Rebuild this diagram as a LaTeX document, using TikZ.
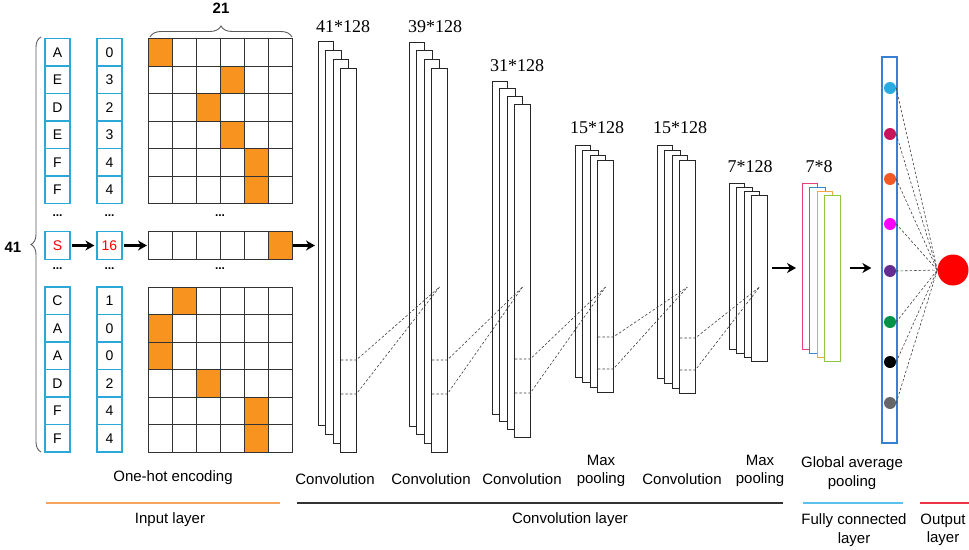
\documentclass[tikz,border=0pt]{standalone}
\usepackage{fontspec}
\setmainfont{Liberation Sans}
\newfontfamily\dimfont{Liberation Serif}
\usetikzlibrary{arrows.meta,decorations.pathreplacing}

\definecolor{boxcyan}{HTML}{2AA8D8}
\definecolor{hotorange}{HTML}{F7931E}
\definecolor{fcblue}{HTML}{3A80D2}
\definecolor{mappink}{HTML}{E6407E}
\definecolor{mapblue}{HTML}{3A87D4}
\definecolor{maporange}{HTML}{F7A541}
\definecolor{mapgreen}{HTML}{8DC63F}
\definecolor{dotcyan}{HTML}{29ABE2}
\definecolor{dotcrimson}{HTML}{C7145A}
\definecolor{dotorange}{HTML}{F15A24}
\definecolor{dotmagenta}{HTML}{FF00FF}
\definecolor{dotpurple}{HTML}{662D91}
\definecolor{dotgreen}{HTML}{009245}
\definecolor{dotgray}{HTML}{666666}
\definecolor{lineorange}{HTML}{F6A35C}
\definecolor{lineblue}{HTML}{5BC0EB}
\definecolor{linered}{HTML}{EE3344}

\begin{document}
\begin{tikzpicture}[x=1pt,y=-1pt,
    seqbox/.style={draw=boxcyan,line width=1.2pt,minimum width=25pt,minimum height=27.5pt,inner sep=0pt,font=\fontsize{14}{14}\selectfont},
    cell/.style={draw=black!80,line width=1pt},
    fmap/.style={draw=black!85,fill=white,line width=1pt,minimum width=15.5pt,inner sep=0pt,outer sep=0pt,anchor=north west},
    bigarrow/.style={-{Stealth[length=9pt,width=10pt]},line width=2.8pt},
    dashline/.style={dash pattern=on 2.5pt off 2pt,line width=0.6pt,black!75},
    lbl/.style={font=\fontsize{15}{18.5}\selectfont,align=center,inner sep=0pt},
    dimlbl/.style={font=\dimfont\fontsize{18}{20}\selectfont,inner sep=0pt},
    dots/.style={font=\bfseries\fontsize{12}{12}\selectfont,inner sep=0pt},
    bracelbl/.style={font=\bfseries\fontsize{15}{16}\selectfont,inner sep=0pt},
    bracepath/.style={draw=black!65,line width=0.9pt,decorate}]

  \useasboundingbox (0,0) rectangle (969,549);

  \begin{scope}[every node/.style={seqbox}]
    \foreach \t [count=\i] in {A,E,D,E,F,F}
      \node (a\i) at (57.5,{24.75+27.5*\i}) {\t};
    \foreach \t [count=\i] in {0,3,2,3,4,4}
      \node (n\i) at (109.5,{24.75+27.5*\i}) {\t};
    \node[text=red] (as) at (57.5,245.5) {S};
    \node[text=red] (ns) at (109.5,245.5) {16};
    \foreach \t [count=\i] in {C,A,A,D,F,F}
      \node (b\i) at (57.5,{273.25+27.5*\i}) {\t};
    \foreach \t [count=\i] in {1,0,0,2,4,4}
      \node (m\i) at (109.5,{273.25+27.5*\i}) {\t};
  \end{scope}

  \foreach \r/\o in {1/1,2/4,3/3,4/4,5/5,6/5}
    \fill[hotorange] ({124+24*\o},{11+27.5*\r}) rectangle ++(24,27.5);
  \foreach \r/\o in {1/2,2/1,3/1,4/3,5/5,6/5}
    \fill[hotorange] ({124+24*\o},{259.5+27.5*\r}) rectangle ++(24,27.5);
  \fill[hotorange] (268,231.75) rectangle ++(24,27.5);
  \foreach \c in {0,...,5} {
    \foreach \r in {0,...,5} {
      \draw[cell] ({148+24*\c},{38.5+27.5*\r}) rectangle ++(24,27.5);
      \draw[cell] ({148+24*\c},{287+27.5*\r}) rectangle ++(24,27.5);
    }
    \draw[cell] ({148+24*\c},231.75) rectangle ++(24,27.5);
  }
  \node[minimum width=144pt,minimum height=27.5pt,inner sep=0pt,outer sep=0pt] (srow) at (220,245.5) {};

  \node[dots] (dt1) at (57.5,216) {...};
  \node[dots] (dt2) at (109.5,216) {...};
  \node[dots] (dt3) at (220,216) {...};
  \node[dots] (db1) at (57.5,269) {...};
  \node[dots] (db2) at (109.5,269) {...};
  \node[dots] (db3) at (220,269) {...};

  \draw[bracepath,decoration={brace,amplitude=11pt}] (150,37) -- (292,37);
  \node[bracelbl] (w21) at (221,8) {21};
  \draw[bracepath,decoration={brace,amplitude=10pt}] (41,452) -- (41,37);
  \node[bracelbl] (h41) at (13,247) {41};

  % feature maps
  \foreach \b/\x/\t/\h/\dy in {B1/318/41/384/9,B2/409/42/384/8.8,B3/492/81/333/7.7,B4/575/145/232/5.3,B5/657/145/233/5.3,B6/729/183/166/4}
    \foreach \i in {1,...,4}
      \node[fmap,minimum height=\h pt] (\b-\i) at ({\x+(\i-1)*7.6},{\t+(\i-1)*\dy}) {};
  \foreach \i/\c in {1/mappink,2/mapblue,3/maporange,4/mapgreen}
    \node[fmap,draw=\c,minimum height=166pt] (B7-\i) at ({802+(\i-1)*7.6},{183+(\i-1)*4}) {};

  \foreach \s/\t/\ya/\yb in {B1/B2/360/394,B2/B3/360/394,B3/B4/359/393,B4/B5/337/369,B5/B6/338/370} {
    \draw[dashline] (\s-4.west |- 0,\ya) -- (\s-4.east |- 0,\ya) -- (\t-4.center |- 0,287);
    \draw[dashline] (\s-4.west |- 0,\yb) -- (\s-4.east |- 0,\yb) -- (\t-4.center |- 0,287);
  }

  \node[dimlbl] (d1) at (343,27) {41*128};
  \node[dimlbl] (d2) at (435,27) {39*128};
  \node[dimlbl] (d3) at (517,66) {31*128};
  \node[dimlbl] (d4) at (597,128) {15*128};
  \node[dimlbl] (d5) at (680,128) {15*128};
  \node[dimlbl] (d6) at (750,167) {7*128};
  \node[dimlbl] (d7) at (819,167) {7*8};

  \node[draw=fcblue,line width=1.3pt,minimum width=15pt,minimum height=386pt,inner sep=0pt] (fc) at (889.5,250) {};
  \foreach \y/\c [count=\i] in {88/dotcyan,134/dotcrimson,179/dotorange,224/dotmagenta,271/dotpurple,322/dotgreen,362/black,403/dotgray}
    \node[circle,fill=\c,minimum size=12pt,inner sep=0pt] (c\i) at (890,\y) {};
  \node[circle,fill=red,minimum size=31pt,inner sep=0pt] (out) at (953,270) {};
  \foreach \i in {1,...,8}
    \draw[dashline] (c\i.east) -- (out.west);

  \path[bigarrow] (as) edge[shorten <=1pt,shorten >=2pt] (ns)
                  (ns) edge[shorten <=1pt,shorten >=1pt] (srow);
  \draw[bigarrow,shorten <=1pt,shorten >=3pt] (srow.east) -- (srow.east -| B1-1.west);
  \draw[bigarrow,shorten <=5pt,shorten >=6pt] (B6-4.east |- 0,268) -- (B7-1.west |- 0,268);
  \draw[bigarrow,shorten <=10pt,shorten >=10pt] (B7-4.east |- 0,268) -- (fc.west |- 0,268);

  \node[lbl] (t-onehot) at (173,478) {One-hot encoding};
  \node[lbl] (t-conv1) at (335,479) {Convolution};
  \node[lbl] (t-conv2) at (431,479) {Convolution};
  \node[lbl] (t-conv3) at (522,479) {Convolution};
  \node[lbl] (t-pool1) at (601,471) {Max\\pooling};
  \node[lbl] (t-conv4) at (682,479) {Convolution};
  \node[lbl] (t-pool2) at (760,471) {Max\\pooling};
  \node[lbl] (t-gap) at (852,473) {Global average\\pooling};

  \draw[lineorange,line width=1.3pt] (46,503) -- (280,503);
  \draw[black!80,line width=1.3pt] (297,503) -- (783,503);
  \draw[lineblue,line width=1.3pt] (803,503) -- (903,503);
  \draw[linered,line width=1.3pt] (920,503) -- (969,503);

  \node[lbl] (t-input) at (170,520) {Input layer};
  \node[lbl] (t-convl) at (570,520) {Convolution layer};
  \node[lbl] (t-fc) at (854,530) {Fully connected\\layer};
  \node[lbl] (t-out) at (943,530) {Output\\layer};
\end{tikzpicture}
\end{document}
